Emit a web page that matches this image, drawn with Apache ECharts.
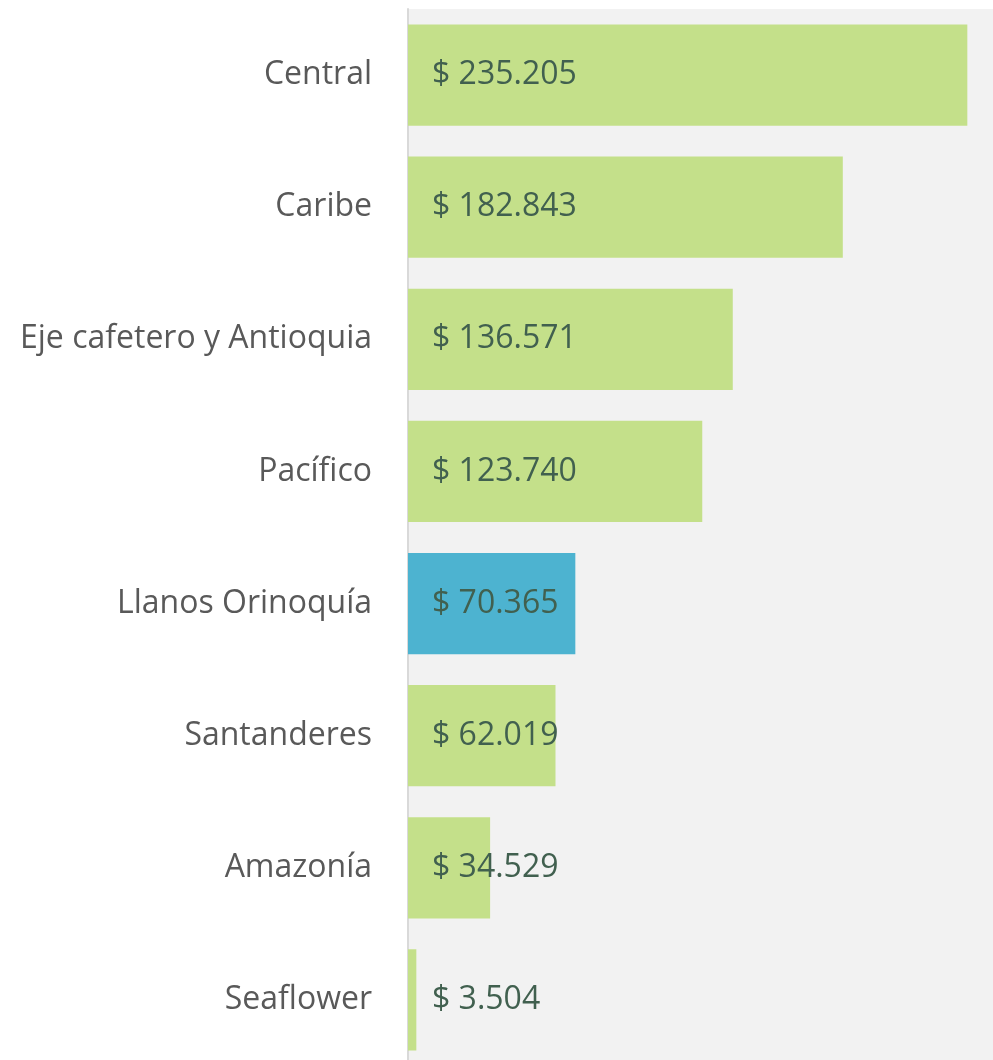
<!DOCTYPE html>
<html>
<head>
    <meta charset="utf-8">
    <title>Regiones</title>
    <script src="https://cdn.jsdelivr.net/npm/echarts@6/dist/echarts.min.js"></script>
    <style>
        html, body { margin: 0; padding: 0; background: #ffffff; }
        #regionChart { width: 993px; height: 1060px; }
    </style>
</head>
<body>
<div id="regionChart"></div>
<script type="text/javascript">
    const regions = ['Central', 'Caribe', 'Eje cafetero y Antioquia', 'Pacífico',
        'Llanos Orinoquía', 'Santanderes', 'Amazonía', 'Seaflower'];
    const values = [235205, 182843, 136571, 123740, 70365, 62019, 34529, 3504];
    const highlightRegion = 'Llanos Orinoquía';

    const green = '#c4e08a';
    const blue = '#4db3d0';

    const regionChart = echarts.init(document.getElementById('regionChart'));

    // miles con punto, como en el original
    function money(v) {
        return '$ ' + String(v).replace(/\B(?=(\d{3})+(?!\d))/g, '.');
    }

    const option = {
        animation: false,
        grid: {
            left: 408,
            right: 0,
            top: 9,
            height: 1057,  // el original corta la última banda
            outerBoundsMode: 'none',
            show: true,
            backgroundColor: '#f2f2f2',
            borderWidth: 0
        },
        xAxis: {
            type: 'value',
            min: 0,
            max: 246000,
            show: false
        },
        yAxis: {
            type: 'category',
            inverse: true,
            data: regions,
            axisLine: {
                show: true,
                lineStyle: { color: '#d9d9d9', width: 2 }
            },
            axisTick: { show: false },
            axisLabel: {
                margin: 36,
                padding: [4, 0, 0, 0],
                fontFamily: 'Open Sans',
                fontSize: 32,
                color: '#595959'
            }
        },
        series: [
            {
                type: 'bar',
                barCategoryGap: '23.3%',
                data: values.map(function (v, i) {
                    return {
                        value: v,
                        itemStyle: { color: regions[i] === highlightRegion ? blue : green }
                    };
                }),
                label: {
                    show: true,
                    position: 'insideLeft',
                    distance: 24,
                    padding: [4, 0, 0, 0],
                    fontFamily: 'Open Sans',
                    fontSize: 32,
                    color: '#41604f',
                    formatter: function (p) {
                        return money(p.value);
                    }
                }
            }
        ]
    };
    regionChart.setOption(option);
</script>
</body>
</html>
